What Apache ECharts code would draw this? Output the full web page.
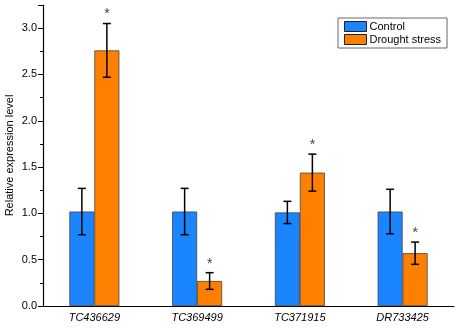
<!DOCTYPE html>
<html>
<head>
<meta charset="utf-8">
<script src="https://cdn.jsdelivr.net/npm/echarts@6/dist/echarts.min.js"></script>
<style>
  html, body { margin: 0; padding: 0; background: #fff; }
  #chart { width: 459px; height: 330px; }
</style>
</head>
<body>
<div id="chart"></div>
<script>
// data
const genes = ['TC436629', 'TC369499', 'TC371915', 'DR733425'];
const controlMean = [1.02, 1.02, 1.01, 1.02];
const controlErr = [0.25, 0.25, 0.12, 0.24];
const droughtMean = [2.76, 0.27, 1.44, 0.57];
const droughtErr = [0.29, 0.09, 0.20, 0.12];
const significant = [true, true, true, true];

const BAR_W = 25;
const font = 'Liberation Sans, Arial, sans-serif';

// error bars (+ star) drawn through the axis scales
const errorSeries = (mean, err, shift, stars) => ({
    type: 'custom',
    z: 10,
    silent: true,
    data: mean.map((m, i) => [i, m, err[i], stars ? (significant[i] ? 1 : 0) : 0]),
    renderItem: (params, api) => {
        const i = api.value(0);
        const hi = api.coord([i, api.value(1) + api.value(2)]);
        const lo = api.coord([i, api.value(1) - api.value(2)]);
        const x = hi[0] + shift;
        const cap = 4;
        const style = { stroke: '#000', lineWidth: 1.5 };
        const children = [
            { type: 'line', shape: { x1: x, y1: hi[1], x2: x, y2: lo[1] }, style },
            { type: 'line', shape: { x1: x - cap, y1: hi[1], x2: x + cap, y2: hi[1] }, style },
            { type: 'line', shape: { x1: x - cap, y1: lo[1], x2: x + cap, y2: lo[1] }, style }
        ];
        if (api.value(3)) {
            children.push({
                type: 'text',
                style: {
                    text: '*', x: x, y: hi[1] - 2,
                    align: 'center', verticalAlign: 'bottom',
                    font: '14px ' + font, fill: '#444'
                }
            });
        }
        return { type: 'group', children };
    }
});

const chart = echarts.init(document.getElementById('chart'));
chart.setOption({
    animation: false,
    grid: { left: 43, right: 5, top: 5, bottom: 24, outerBoundsMode: 'none', containLabel: false },
    legend: {
        left: 338, top: 18,
        orient: 'vertical',
        data: ['Control', 'Drought stress'],
        icon: 'rect',
        itemWidth: 22, itemHeight: 10, itemGap: 2,
        padding: [3, 6, 3, 6],
        borderColor: '#666', borderWidth: 1,
        itemStyle: { borderColor: '#222', borderWidth: 1 },
        textStyle: { fontFamily: font, fontSize: 11, lineHeight: 11, color: '#000', padding: [0, 0, 0, -2] }
    },
    xAxis: {
        type: 'category',
        data: genes,
        axisLine: { lineStyle: { color: '#000', width: 1.2 } },
        axisTick: { alignWithLabel: true, length: 4, lineStyle: { color: '#000' } },
        axisLabel: { fontFamily: font, fontStyle: 'italic', fontSize: 11, color: '#000', margin: 6 }
    },
    yAxis: {
        type: 'value',
        min: 0, max: 3.25, interval: 0.5,
        name: 'Relative expression level',
        nameLocation: 'middle',
        nameGap: 28,
        nameMoveOverlap: false,
        nameTextStyle: { fontFamily: font, fontSize: 11, color: '#000' },
        axisLine: { show: true, lineStyle: { color: '#000', width: 1.2 } },
        axisTick: { show: true, length: 5, lineStyle: { color: '#000' } },
        minorTick: { show: true, splitNumber: 2, length: 3, lineStyle: { color: '#000' } },
        splitLine: { show: false },
        axisLabel: {
            fontFamily: font, fontSize: 11, color: '#000', margin: 6,
            showMaxLabel: false,
            formatter: v => v.toFixed(1)
        }
    },
    series: [
        {
            name: 'Control', type: 'bar', data: controlMean,
            barWidth: BAR_W, barGap: '0%',
            itemStyle: { color: '#1a85ff', borderColor: '#444', borderWidth: 0.8 }
        },
        {
            name: 'Drought stress', type: 'bar', data: droughtMean,
            barWidth: BAR_W, barGap: '0%',
            itemStyle: { color: '#ff8000', borderColor: '#444', borderWidth: 0.8 }
        },
        errorSeries(controlMean, controlErr, -BAR_W / 2, false),
        errorSeries(droughtMean, droughtErr, BAR_W / 2, true)
    ]
});
</script>
</body>
</html>
